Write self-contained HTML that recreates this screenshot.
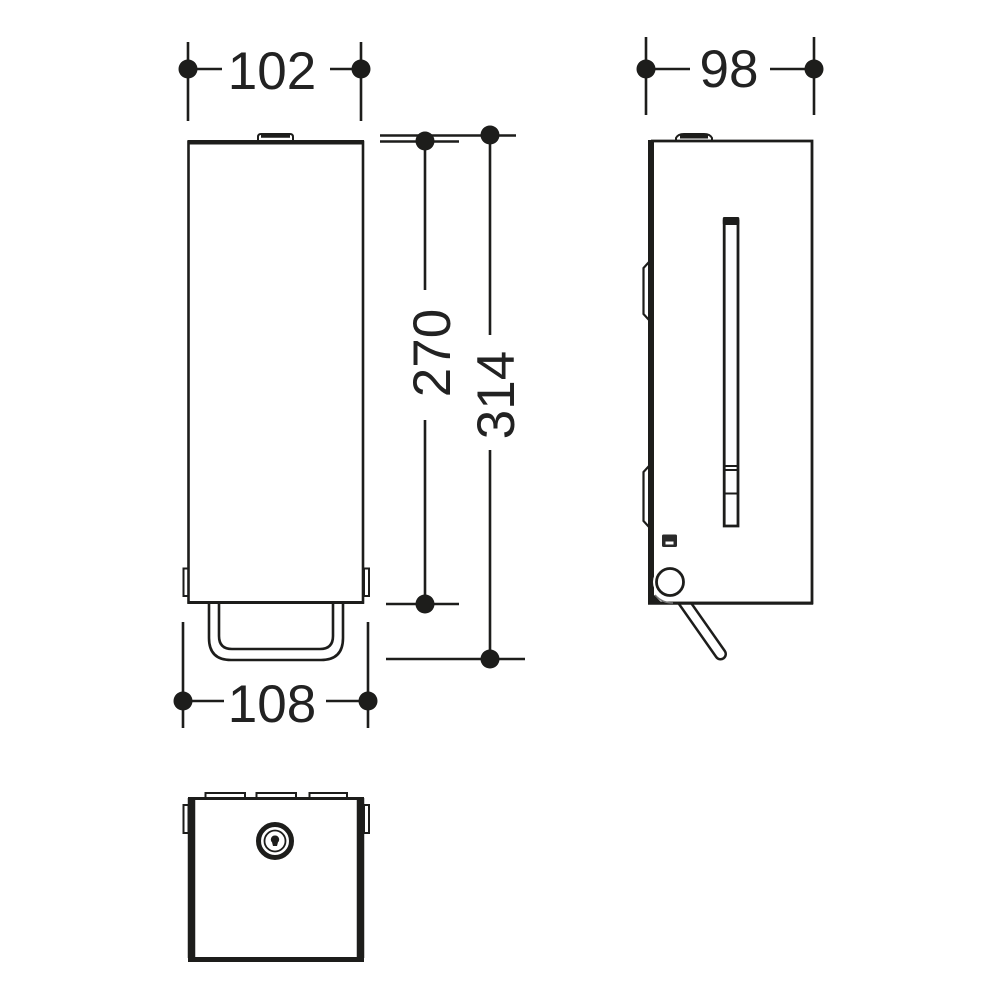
<!DOCTYPE html>
<html><head><meta charset="utf-8"><style>
html,body{margin:0;padding:0;background:#fff}
svg{display:block;filter:blur(0.35px)}
text{font-family:"Liberation Sans",sans-serif;font-size:53px;fill:#222;text-anchor:middle}
</style></head><body>
<svg width="1000" height="1000" viewBox="0 0 1000 1000" xmlns="http://www.w3.org/2000/svg">
<!-- Lever (drawn first so the body covers its upper end) -->
<g fill="none" stroke-linecap="round">
<path d="M677 592L720.500 654" stroke="#1d1d1b" stroke-width="13"/>
<path d="M677 592L720.500 654" stroke="#fff" stroke-width="8"/>
</g>
<rect x="650" y="141" width="162" height="462" fill="#fff"/>
<g fill="none" stroke="#1d1d1b" stroke-width="2.600">
<!-- Dimension 102 -->
<path d="M188 42V121M361 42V121M188 69H222M330 69H361"/>
<!-- Dimension 98 -->
<path d="M646 37V115M814 37V115M646 69H690M770 69H814"/>
<!-- Dimension 108 -->
<path d="M183 622V728M368 622V728M183 701H224M326 701H368"/>
<!-- Height dims -->
<path d="M380 135.500H516M380 141.500H459M425 141V290M425 420V604M386 604H459M490 135V335M490 450V659M386 659H525"/>
<!-- Front view -->
<rect x="188.500" y="142" width="174.500" height="460.500" stroke-width="2.600"/>
<path d="M187.500 142.300H364" stroke-width="4.500"/>
<path d="M187.500 602.500H364" stroke-width="3"/>
<path d="M258 140V137Q258 134 261 134H290Q293 134 293 137V140" stroke-width="2"/>
<path d="M261 136H290" stroke-width="3.500"/>
<rect x="183.500" y="568.500" width="5" height="27.500" stroke-width="2"/>
<rect x="364" y="568.500" width="5" height="27.500" stroke-width="2"/>
<!-- Handle -->
<path d="M209 604V638Q209 660 231 660H321Q343 660 343 638V604" stroke-width="2.600"/>
<path d="M219 604V636Q219 649 232 649H320Q333 649 333 636V604" stroke-width="2.600"/>
<!-- Bottom view -->
<path d="M191.500 798V958M360.500 798V958" stroke-width="7.500"/>
<path d="M188 959.500H364" stroke-width="5"/>
<path d="M188 798.500H364" stroke-width="3"/>
<path d="M205.500 797V793H245V797M256.500 797V793H296V797M309.500 797V793H347V797" stroke-width="2"/>
<rect x="183.500" y="805" width="5" height="28" stroke-width="2"/>
<rect x="364" y="805" width="5" height="28" stroke-width="2"/>
<circle cx="275" cy="841" r="16.500" stroke-width="5"/>
<circle cx="275" cy="841" r="10.500" stroke-width="1.800"/>
<!-- Side view -->
<path d="M651 141H812V603H651" stroke-width="2.800"/>
<path d="M651 140V604" stroke-width="6"/>
<path d="M648 603.300H813" stroke-width="3"/>
<path d="M676 140V138Q678 134 684 134H704Q710 134 712 138V140" stroke-width="2"/>
<path d="M680 136.500H708" stroke-width="4"/>
<!-- Side bumps -->
<path d="M649 262L643.500 268V314L649 320" stroke-width="2.200"/>
<path d="M649 466L643.500 472V521L649 527" stroke-width="2.200"/>
<!-- Slot -->
<path d="M724.200 221V526H738V221Z" stroke-width="2.800"/>
<path d="M724 466H738M724 470H738M724 493.500H738" stroke-width="2"/>
<!-- Pivot circle -->
<circle cx="670" cy="582" r="17" fill="#fff" stroke="none"/>
<circle cx="670" cy="582" r="13.500" fill="#fff" stroke-width="2.800"/>
<path d="M655 595Q662 603 673 603" stroke="#777" stroke-width="1.500"/>
</g>
<path d="M654 595L662 603H654Z" fill="#1d1d1b"/>
<rect x="722.800" y="217" width="16.500" height="8" rx="1.500" fill="#1d1d1b"/>
<path d="M275 835.500a4 4 0 0 1 3 6.800l-1 3.700h-4l-1-3.700a4 4 0 0 1 3-6.800Z" fill="#1d1d1b"/>
<rect x="662" y="534.500" width="15" height="12.500" rx="1.500" fill="#2a2a2a"/>
<rect x="665.500" y="541.500" width="8" height="3" fill="#fff"/>
<g fill="#1d1d1b">
<circle cx="188" cy="69" r="9.500"/><circle cx="361" cy="69" r="9.500"/>
<circle cx="646" cy="69" r="9.500"/><circle cx="814" cy="69" r="9.500"/>
<circle cx="183" cy="701" r="9.500"/><circle cx="368" cy="701" r="9.500"/>
<circle cx="425" cy="141" r="9.500"/><circle cx="490" cy="135" r="9.500"/>
<circle cx="425" cy="604" r="9.500"/><circle cx="490" cy="659" r="9.500"/>
</g>
<text x="272" y="89">102</text>
<text x="729" y="87">98</text>
<text x="272" y="722">108</text>
<text transform="translate(450 353) rotate(-90)">270</text>
<text transform="translate(514 395) rotate(-90)">314</text>
</svg>
</body></html>
